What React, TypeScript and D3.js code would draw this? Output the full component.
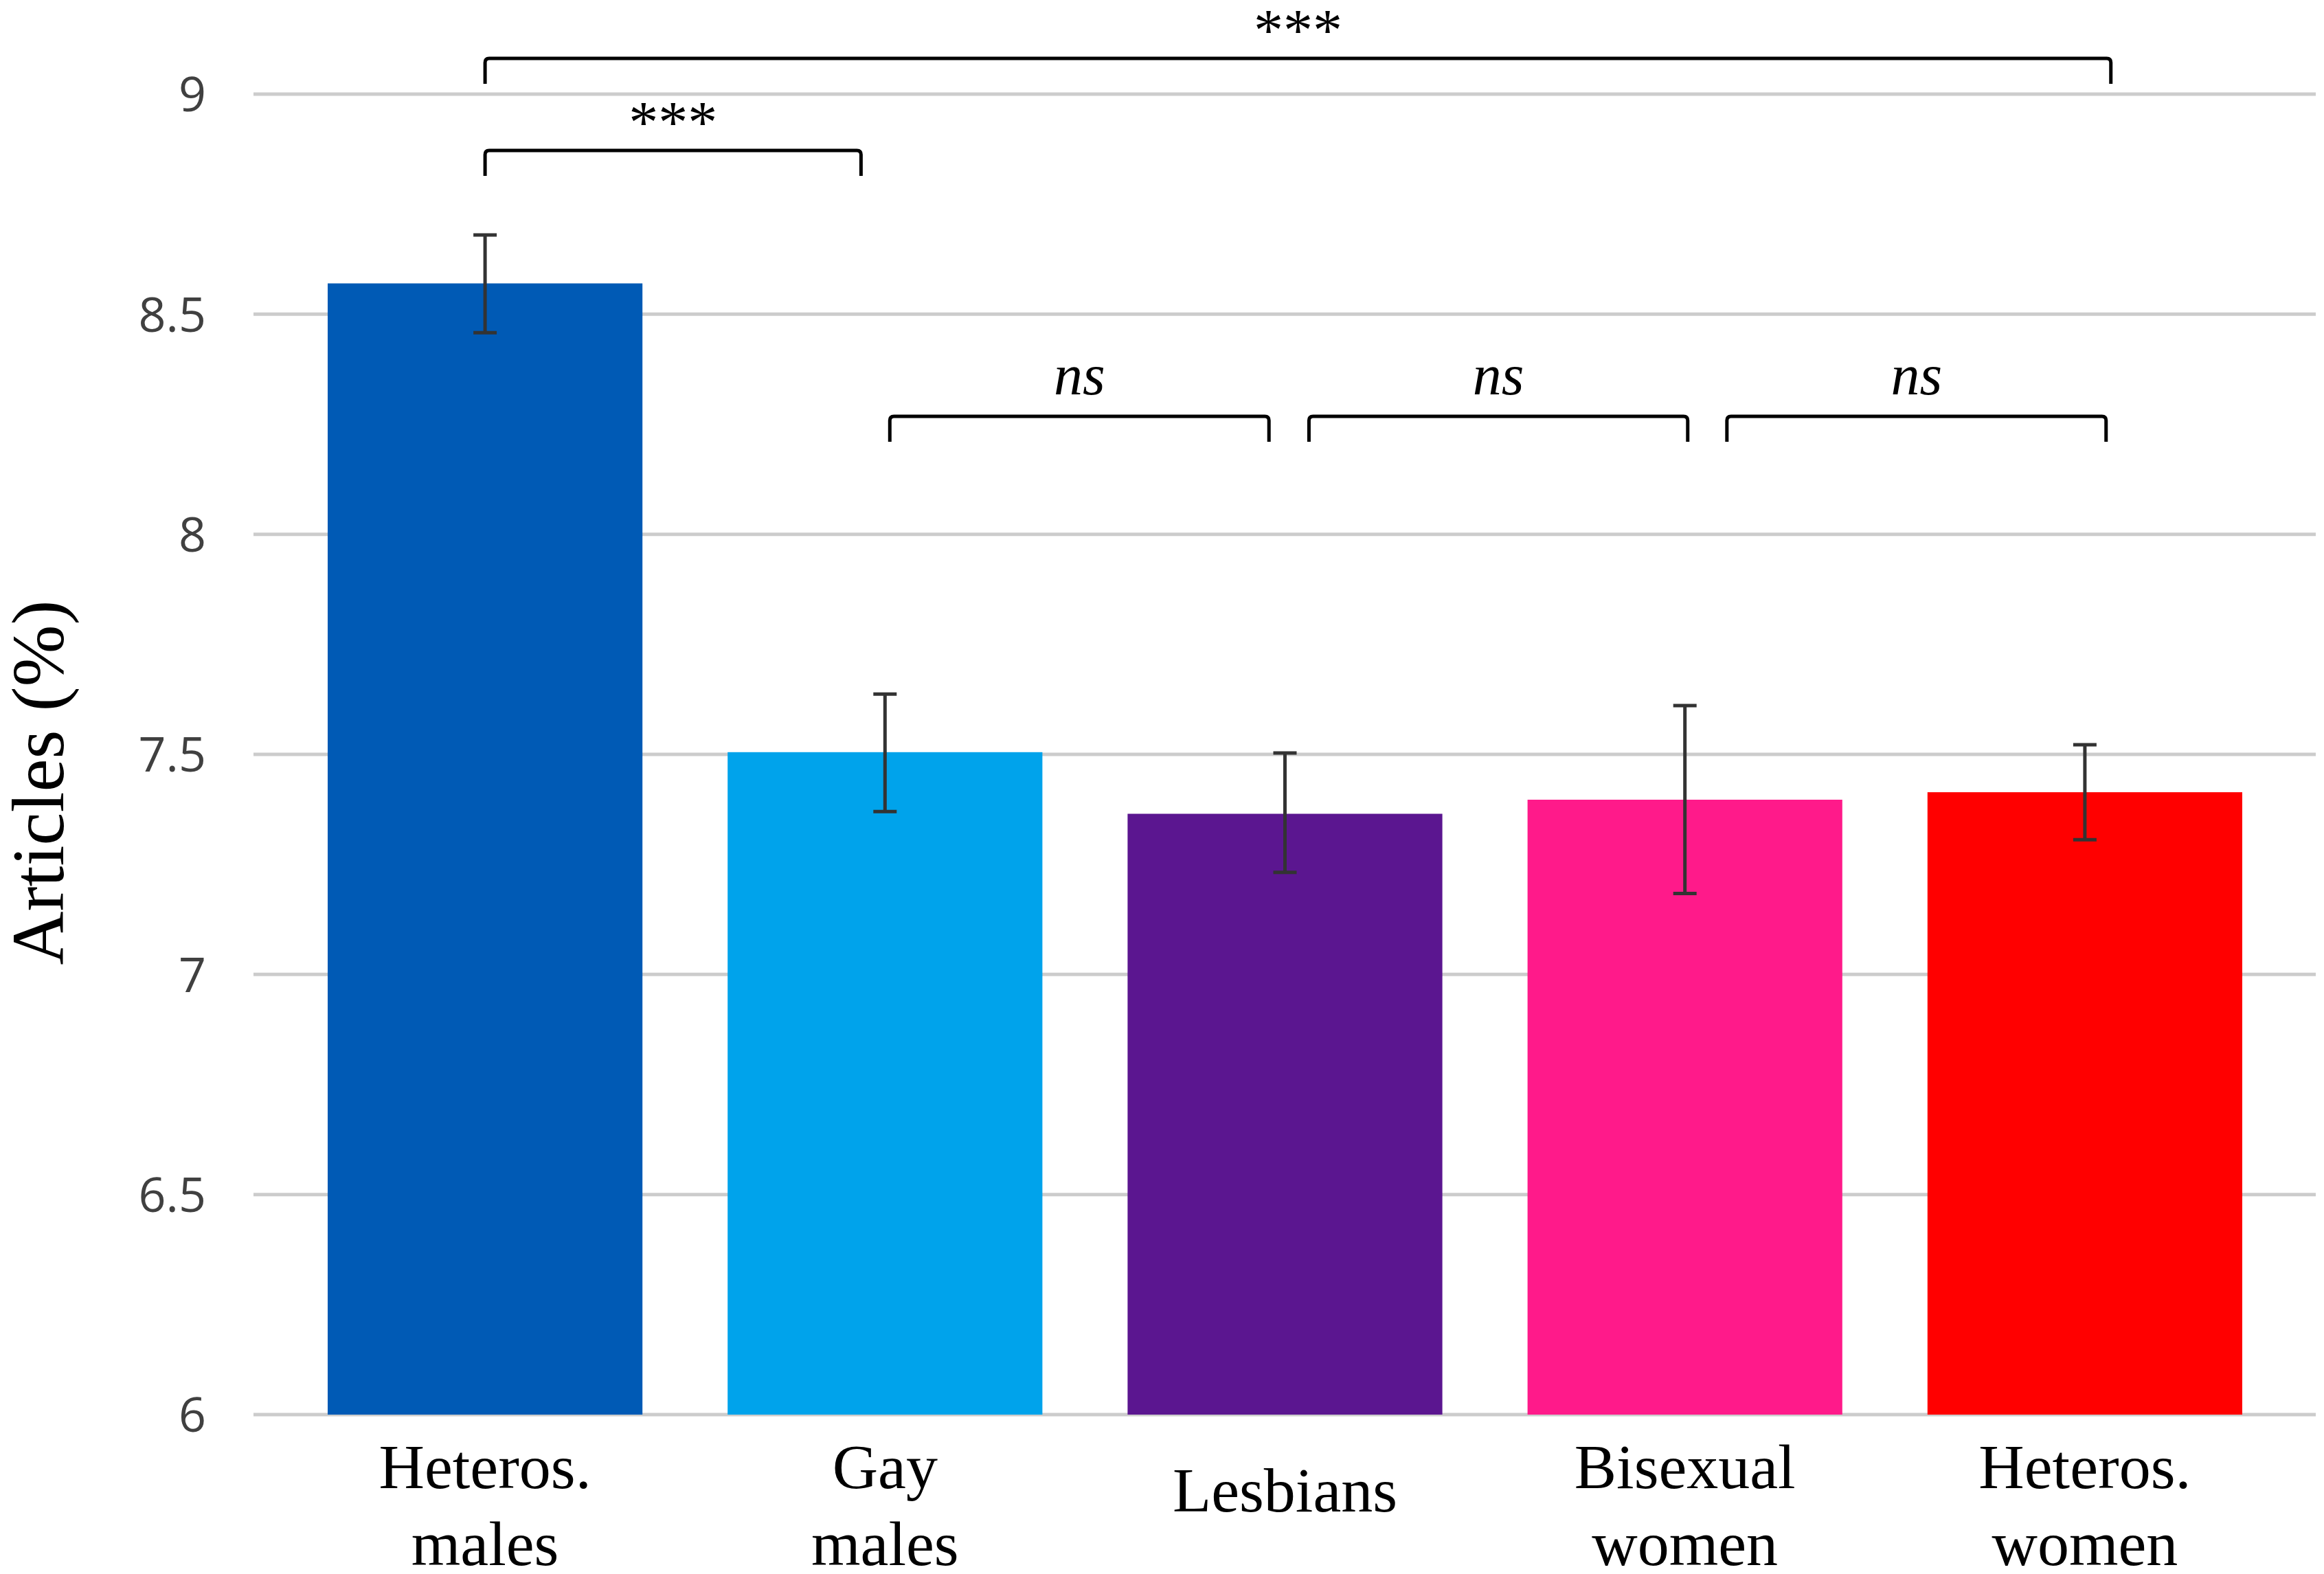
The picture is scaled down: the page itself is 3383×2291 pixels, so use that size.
import { useRef, useEffect } from "react";
import * as d3 from "d3";

const categories = [
  ["Heteros.", "males"],
  ["Gay", "males"],
  ["Lesbians"],
  ["Bisexual", "women"],
  ["Heteros.", "women"],
];
const means = [8.57, 7.505, 7.365, 7.397, 7.414];
const errLow = [8.458, 7.37, 7.232, 7.184, 7.306];
const errHigh = [8.68, 7.637, 7.503, 7.611, 7.522];
const barColors = ["#005AB5", "#00A3EB", "#5B1690", "#FF1A8A", "#FF0000"];
const yTicks = [6, 6.5, 7, 7.5, 8, 8.5, 9];

// significance brackets: first bar, last bar, label, italic
const bracketFrom = [0, 0, 1, 2, 3];
const bracketTo = [4, 1, 2, 3, 4];
const bracketLabels = ["***", "***", "ns", "ns", "ns"];

const W = 3383;
const H = 2291;

// bracket placement (y in axis units, x offsets as fraction of band step)
const bracketLevel = [9.081, 8.872, 8.268, 8.268, 8.268];
const bracketDx0 = [0, 0, 0.012, 0.06, 0.105];
const bracketDx1 = [0.065, -0.06, -0.04, 0.007, 0.053];

export default function App() {
  const svgRef = useRef<SVGSVGElement>(null);

  useEffect(() => {
    if (!svgRef.current) return;
    const svg = d3.select(svgRef.current);
    svg.selectAll("*").remove();

    const gridLeft = 369;
    const gridRight = 3371;

    const x = d3
      .scaleBand<number>()
      .domain(d3.range(categories.length))
      .range([415, 3326])
      .paddingInner(0.213)
      .paddingOuter(0.1065);

    const y = d3.scaleLinear().domain([6, 9]).range([2059, 137]);
    const cx = (i: number) => (x(i) ?? 0) + x.bandwidth() / 2;

    svg
      .append("rect")
      .attr("width", W)
      .attr("height", H)
      .attr("fill", "#ffffff");

    // gridlines
    svg
      .append("g")
      .selectAll("line")
      .data(yTicks)
      .join("line")
      .attr("x1", gridLeft)
      .attr("x2", gridRight)
      .attr("y1", (d) => y(d))
      .attr("y2", (d) => y(d))
      .attr("stroke", "#cccccc")
      .attr("stroke-width", 5);

    // y tick labels
    svg
      .append("g")
      .selectAll("text")
      .data(yTicks)
      .join("text")
      .attr("x", 300)
      .attr("y", (d) => y(d))
      .attr("dy", "0.36em")
      .attr("text-anchor", "end")
      .attr("font-family", "'Open Sans', sans-serif")
      .attr("font-size", 70)
      .attr("fill", "#404040")
      .text((d) => d3.format("")(d));

    // bars
    svg
      .append("g")
      .selectAll("rect")
      .data(means)
      .join("rect")
      .attr("x", (_, i) => x(i) ?? 0)
      .attr("width", x.bandwidth())
      .attr("y", (d) => y(d))
      .attr("height", (d) => y(6) - y(d))
      .attr("fill", (_, i) => barColors[i]);

    // error bars
    const eg = svg.append("g").attr("stroke", "#333333").attr("stroke-width", 5);
    means.forEach((_, i) => {
      const c = cx(i);
      eg.append("line")
        .attr("x1", c)
        .attr("x2", c)
        .attr("y1", y(errLow[i]))
        .attr("y2", y(errHigh[i]));
      [errLow[i], errHigh[i]].forEach((v) => {
        eg.append("line")
          .attr("x1", c - 17)
          .attr("x2", c + 17)
          .attr("y1", y(v))
          .attr("y2", y(v));
      });
    });

    // x labels
    const xl = svg
      .append("g")
      .attr("font-family", "'Liberation Serif', 'Times New Roman', serif")
      .attr("font-size", 92)
      .attr("fill", "#000000")
      .attr("text-anchor", "middle");
    categories.forEach((lines, i) => {
      lines.forEach((ln, j) => {
        xl.append("text")
          .attr("x", cx(i))
          .attr("y", lines.length === 1 ? 2200 : 2166 + j * 112)
          .text(ln);
      });
    });

    // y axis title
    svg
      .append("text")
      .attr("transform", `translate(92,1139) rotate(-90)`)
      .attr("text-anchor", "middle")
      .attr("font-family", "'Liberation Serif', 'Times New Roman', serif")
      .attr("font-size", 108)
      .attr("fill", "#000000")
      .text("Articles (%)");

    // significance brackets
    const bg = svg.append("g");
    const step = x.step();
    bracketLabels.forEach((label, k) => {
      const x0 = cx(bracketFrom[k]) + bracketDx0[k] * step;
      const x1 = cx(bracketTo[k]) + bracketDx1[k] * step;
      const yy = y(bracketLevel[k]);
      const tip = 37;
      bg.append("path")
        .attr(
          "d",
          `M${x0},${yy + tip} L${x0},${yy + 6} Q${x0},${yy} ${x0 + 6},${yy} L${x1 - 6},${yy} Q${x1},${yy} ${x1},${yy + 6} L${x1},${yy + tip}`
        )
        .attr("fill", "none")
        .attr("stroke", "#000000")
        .attr("stroke-width", 5);
      const isNs = label === "ns";
      bg.append("text")
        .attr("x", (x0 + x1) / 2)
        .attr("y", isNs ? yy - 32 : yy - 12)
        .attr("text-anchor", "middle")
        .attr("font-family", "'Liberation Serif', 'Times New Roman', serif")
        .attr("font-style", isNs ? "italic" : "normal")
        .attr("font-size", isNs ? 84 : 86)
        .attr("fill", "#000000")
        .text(label);
    });
  }, []);

  return (
    <svg
      ref={svgRef}
      width={W}
      height={H}
      style={{ position: "absolute", left: 0, top: 0, display: "block" }}
      role="img"
      aria-label="Bar chart of articles percentage by group"
    />
  );
}
